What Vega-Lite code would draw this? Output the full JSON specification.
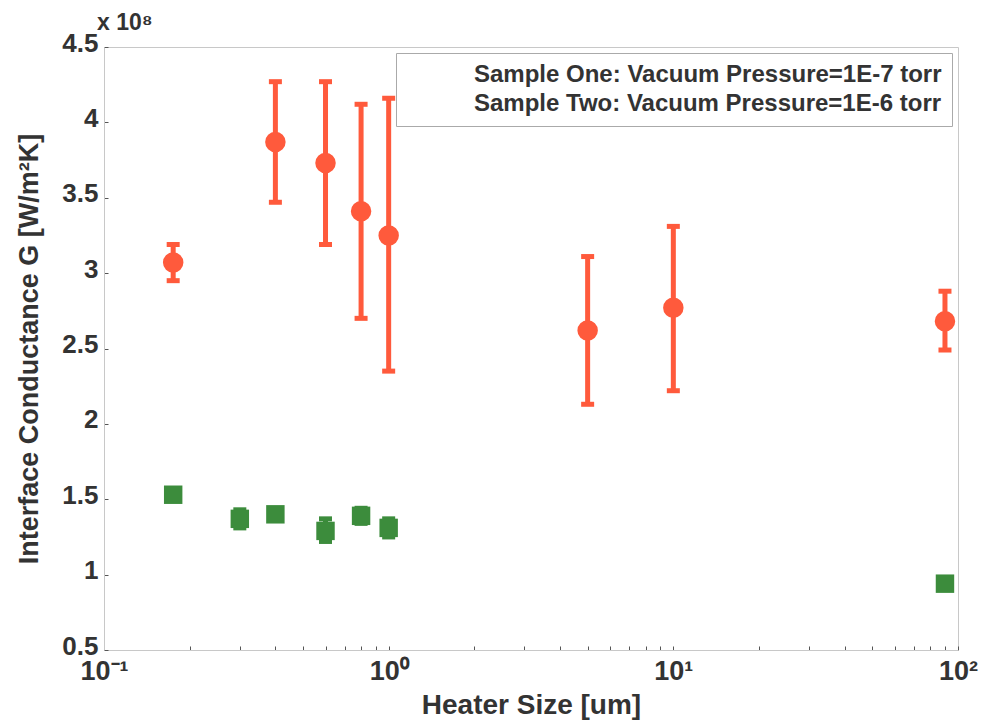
{
  "$schema": "https://vega.github.io/schema/vega-lite/v6.json",
  "width": 854,
  "height": 603,
  "autosize": {"type": "none"},
  "padding": {"left": 104, "top": 47, "right": 26, "bottom": 78},
  "background": "white",
  "config": {
    "view": {"stroke": "#c8c8c8", "strokeWidth": 1},
    "font": "Liberation Sans"
  },
  "title": {
    "text": "x 10⁸",
    "anchor": "start",
    "frame": "group",
    "fontSize": 23,
    "fontWeight": "bold",
    "color": "#333333",
    "offset": 2,
    "dx": -7,
    "dy": 7
  },
  "data": {
    "values": [
      {"sample": "Sample One: Vacuum Pressure=1E-7 torr", "size": 0.175, "g": 3.07, "lo": 2.95, "hi": 3.19},
      {"sample": "Sample One: Vacuum Pressure=1E-7 torr", "size": 0.4, "g": 3.87, "lo": 3.47, "hi": 4.27},
      {"sample": "Sample One: Vacuum Pressure=1E-7 torr", "size": 0.6, "g": 3.73, "lo": 3.19, "hi": 4.27},
      {"sample": "Sample One: Vacuum Pressure=1E-7 torr", "size": 0.8, "g": 3.41, "lo": 2.70, "hi": 4.12},
      {"sample": "Sample One: Vacuum Pressure=1E-7 torr", "size": 1.0, "g": 3.25, "lo": 2.35, "hi": 4.16},
      {"sample": "Sample One: Vacuum Pressure=1E-7 torr", "size": 5, "g": 2.62, "lo": 2.13, "hi": 3.11},
      {"sample": "Sample One: Vacuum Pressure=1E-7 torr", "size": 10, "g": 2.77, "lo": 2.22, "hi": 3.31},
      {"sample": "Sample One: Vacuum Pressure=1E-7 torr", "size": 90, "g": 2.68, "lo": 2.49, "hi": 2.88},
      {"sample": "Sample Two: Vacuum Pressure=1E-6 torr", "size": 0.175, "g": 1.53, "lo": 1.51, "hi": 1.55},
      {"sample": "Sample Two: Vacuum Pressure=1E-6 torr", "size": 0.3, "g": 1.37, "lo": 1.31, "hi": 1.43},
      {"sample": "Sample Two: Vacuum Pressure=1E-6 torr", "size": 0.4, "g": 1.40, "lo": 1.37, "hi": 1.43},
      {"sample": "Sample Two: Vacuum Pressure=1E-6 torr", "size": 0.6, "g": 1.29, "lo": 1.22, "hi": 1.37},
      {"sample": "Sample Two: Vacuum Pressure=1E-6 torr", "size": 0.8, "g": 1.39, "lo": 1.34, "hi": 1.44},
      {"sample": "Sample Two: Vacuum Pressure=1E-6 torr", "size": 1.0, "g": 1.31, "lo": 1.25, "hi": 1.37},
      {"sample": "Sample Two: Vacuum Pressure=1E-6 torr", "size": 90, "g": 0.94, "lo": 0.94, "hi": 0.94}
    ]
  },
  "encoding": {
    "x": {
      "field": "size",
      "type": "quantitative",
      "scale": {"type": "log", "domain": [0.1, 100], "nice": false},
      "axis": {
        "title": "Heater Size [um]",
        "titleFontSize": 28,
        "titleFontWeight": "bold",
        "titleColor": "#333333",
        "titlePadding": 7,
        "values": [0.1, 0.2, 0.3, 0.4, 0.5, 0.6, 0.7, 0.8, 0.9, 1, 2, 3, 4, 5, 6, 7, 8, 9, 10, 20, 30, 40, 50, 60, 70, 80, 90, 100],
        "labelExpr": "datum.value == 0.1 ? '10⁻¹' : datum.value == 1 ? '10⁰' : datum.value == 10 ? '10¹' : datum.value == 100 ? '10²' : ''",
        "labelFontSize": 27,
        "labelFontWeight": "bold",
        "labelColor": "#333333",
        "labelPadding": 12,
        "labelFlush": false,
        "labelOverlap": false,
        "labelBound": false,
        "tickSize": -4,
        "tickColor": "#555555",
        "domainColor": "#c8c8c8",
        "grid": false
      }
    },
    "y": {
      "field": "g",
      "type": "quantitative",
      "scale": {"domain": [0.5, 4.5], "nice": false, "zero": false},
      "axis": {
        "title": "Interface Conductance G [W/m²K]",
        "titleFontSize": 27,
        "titleFontWeight": "bold",
        "titleColor": "#333333",
        "titlePadding": 18,
        "values": [0.5, 1, 1.5, 2, 2.5, 3, 3.5, 4, 4.5],
        "format": ".1~f",
        "labelFontSize": 26,
        "labelFontWeight": "bold",
        "labelColor": "#333333",
        "labelPadding": 10,
        "labelOffset": -4,
        "labelFlush": false,
        "labelBound": false,
        "tickSize": -4,
        "tickColor": "#555555",
        "domainColor": "#c8c8c8",
        "grid": false
      }
    }
  },
  "layer": [
    {
      "mark": {"type": "rule", "strokeWidth": 5},
      "encoding": {
        "y": {"field": "lo", "type": "quantitative"},
        "y2": {"field": "hi"},
        "color": {"field": "sample", "type": "nominal",
          "scale": {"domain": ["Sample One: Vacuum Pressure=1E-7 torr", "Sample Two: Vacuum Pressure=1E-6 torr"], "range": ["#ff5a3c", "#3c8c3c"]},
          "legend": {
            "title": null,
            "orient": "top-right",
            "offset": 6,
            "padding": 10,
            "fillColor": "white",
            "strokeColor": "#aaaaaa",
            "labelFontSize": 24,
            "labelFontWeight": "bold",
            "labelColor": "#333333",
            "labelLimit": 700,
            "labelOffset": 44,
            "rowPadding": 5,
            "encode": {
              "symbols": {"update": {"opacity": {"value": 0}, "fillOpacity": {"value": 0}, "strokeOpacity": {"value": 0}}}
            }
          }}
      }
    },
    {
      "mark": {"type": "tick", "orient": "horizontal", "size": 13, "thickness": 5, "opacity": 1},
      "encoding": {
        "y": {"field": "lo", "type": "quantitative"},
        "color": {"field": "sample", "type": "nominal"}
      }
    },
    {
      "mark": {"type": "tick", "orient": "horizontal", "size": 13, "thickness": 5, "opacity": 1},
      "encoding": {
        "y": {"field": "hi", "type": "quantitative"},
        "color": {"field": "sample", "type": "nominal"}
      }
    },
    {
      "mark": {"type": "point", "filled": true, "opacity": 1},
      "encoding": {
        "shape": {"field": "sample", "type": "nominal", "legend": null,
          "scale": {"domain": ["Sample One: Vacuum Pressure=1E-7 torr", "Sample Two: Vacuum Pressure=1E-6 torr"], "range": ["circle", "square"]}},
        "size": {"field": "sample", "type": "nominal", "legend": null,
          "scale": {"domain": ["Sample One: Vacuum Pressure=1E-7 torr", "Sample Two: Vacuum Pressure=1E-6 torr"], "range": [420, 340]}},
        "color": {"field": "sample", "type": "nominal"}
      }
    }
  ]
}
